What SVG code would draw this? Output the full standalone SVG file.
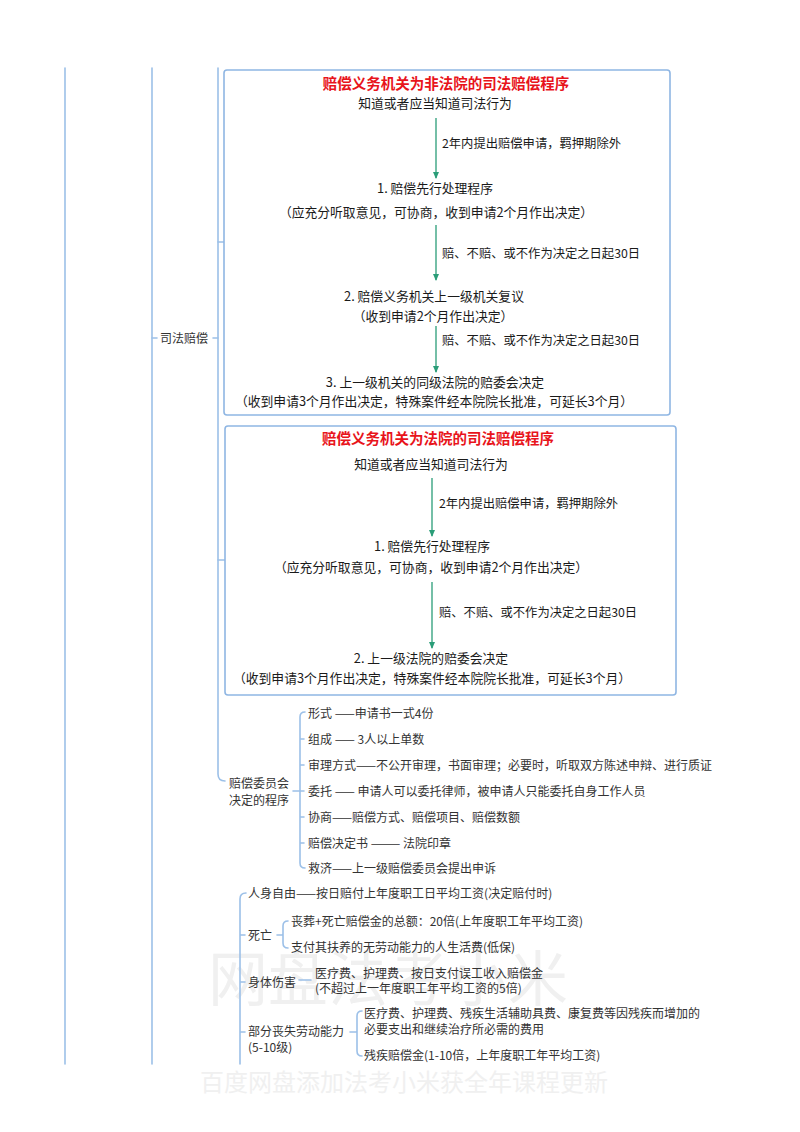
<svg xmlns="http://www.w3.org/2000/svg" width="800" height="1132" viewBox="0 0 800 1132">
<style>
.ln{fill:none;stroke:#9cc0e8;stroke-width:1.6;stroke-linecap:round}
.box{fill:#fff;stroke:#8fb6e3;stroke-width:1.6}
.arr{stroke:#2a9d78;stroke-width:1.3;fill:none}
.t{font-family:"Noto Sans CJK SC","Noto Sans",sans-serif;fill:#333;font-size:12px}
.b{font-family:"Noto Sans CJK SC","Noto Sans",sans-serif;fill:#1a1a1a;font-size:12.8px;text-anchor:middle}
.lb{font-family:"Noto Sans CJK SC","Noto Sans",sans-serif;fill:#1a1a1a;font-size:12.3px}
.h{font-family:"Noto Sans CJK SC","Noto Sans",sans-serif;fill:#e8141b;font-size:14.5px;font-weight:bold;text-anchor:middle}
.wm{font-family:"Noto Sans CJK SC","Noto Sans",sans-serif;fill:#f0f0f0}
</style>
<defs>
<marker id="ah" viewBox="0 0 8 8" refX="7" refY="4" markerWidth="7" markerHeight="7" orient="auto" markerUnits="userSpaceOnUse">
<path d="M0,0.5 L8,4 L0,7.5 Z" fill="#2a9d78"/>
</marker>
</defs>
<rect width="800" height="1132" fill="#fff"/>
<g id="watermark">
<text class="wm" x="208" y="1001" font-size="60">网盘法考小米</text>
<text class="wm" x="200" y="1091" font-size="24">百度网盘添加法考小米获全年课程更新</text>
</g>
<g id="connectors">
<path class="ln" d="M65,68 V1064"/>
<path class="ln" d="M152,68 V1064"/>
<path class="ln" d="M152,338 H157 M213,338 H218"/>
<path class="ln" d="M218,68 V774 Q218,781 225,781"/>
<path class="ln" d="M218,242 H224 M218,560 H225"/>
<path class="ln" d="M293,791 H300 M305,712 Q300,712 300,717 V863 Q300,868 305,868 M300,739 H304 M300,765 H304 M300,791 H304 M300,817 H304 M300,843 H304"/>
<path class="ln" d="M246,893 Q240,893 240,899 V1064 M240,935 H245 M240,982 H245 M240,1032 H245"/>
<path class="ln" d="M277,935 H282 M288,921 Q283,921 283,926 V943 Q283,948 288,948"/>
<path class="ln" d="M299,980 H311"/>
<path class="ln" d="M350,1032 H356 M362,1011 Q357,1011 357,1016 V1051 Q357,1056 362,1056"/>
</g>
<g id="node-sifa">
<text class="t" x="160" y="342.5" font-size="12.5">司法赔偿</text>
</g>
<g id="box-nonfayuan">
<rect class="box" x="224" y="70" width="446" height="345" rx="3"/>
<path class="arr" d="M436,118 V178" marker-end="url(#ah)"/>
<path class="arr" d="M436,225 V280" marker-end="url(#ah)"/>
<path class="arr" d="M436,326 V372" marker-end="url(#ah)"/>
<text class="h" x="446" y="88.5">赔偿义务机关为非法院的司法赔偿程序</text>
<text class="b" x="435" y="108">知道或者应当知道司法行为</text>
<text class="lb" x="442" y="147.5">2年内提出赔偿申请，羁押期除外</text>
<text class="b" x="435" y="192.5">1. 赔偿先行处理程序</text>
<text class="b" x="436" y="216.5">（应充分听取意见，可协商，收到申请2个月作出决定）</text>
<text class="lb" x="442" y="257.5">赔、不赔、或不作为决定之日起30日</text>
<text class="b" x="434" y="300.5">2. 赔偿义务机关上一级机关复议</text>
<text class="b" x="433" y="320.5">（收到申请2个月作出决定）</text>
<text class="lb" x="442" y="344.5">赔、不赔、或不作为决定之日起30日</text>
<text class="b" x="435" y="386.5">3. 上一级机关的同级法院的赔委会决定</text>
<text class="b" x="434" y="405.5">（收到申请3个月作出决定，特殊案件经本院院长批准，可延长3个月）</text>
</g>
<g id="box-fayuan">
<rect class="box" x="225" y="426" width="451" height="269" rx="3"/>
<path class="arr" d="M432,478 V536" marker-end="url(#ah)"/>
<path class="arr" d="M432,582 V648" marker-end="url(#ah)"/>
<text class="h" x="438" y="443.5">赔偿义务机关为法院的司法赔偿程序</text>
<text class="b" x="431" y="468.5">知道或者应当知道司法行为</text>
<text class="lb" x="439" y="507.5">2年内提出赔偿申请，羁押期除外</text>
<text class="b" x="432" y="550.5">1. 赔偿先行处理程序</text>
<text class="b" x="431" y="571.5">（应充分听取意见，可协商，收到申请2个月作出决定）</text>
<text class="lb" x="439" y="617">赔、不赔、或不作为决定之日起30日</text>
<text class="b" x="431" y="662.5">2. 上一级法院的赔委会决定</text>
<text class="b" x="432" y="682.5">（收到申请3个月作出决定，特殊案件经本院院长批准，可延长3个月）</text>
</g>
<g id="node-weiyuanhui">
<text class="t" x="229" y="787.5" font-size="12.5">赔偿委员会</text>
<text class="t" x="229" y="805" font-size="12.5">决定的程序</text>
</g>
<g id="weiyuanhui-items">
<text class="t" x="308" y="718">形式 ——申请书一式4份</text>
<text class="t" x="308" y="743.5">组成 —— 3人以上单数</text>
<text class="t" x="308" y="769.5">审理方式——不公开审理，书面审理；必要时，听取双方陈述申辩、进行质证</text>
<text class="t" x="308" y="795.5">委托 —— 申请人可以委托律师，被申请人只能委托自身工作人员</text>
<text class="t" x="308" y="821.5">协商——赔偿方式、赔偿项目、赔偿数额</text>
<text class="t" x="308" y="847.5">赔偿决定书 ——— 法院印章</text>
<text class="t" x="308" y="872.5">救济——上一级赔偿委员会提出申诉</text>
</g>
<g id="node-renshen">
<text class="t" x="248" y="897.5">人身自由——按日赔付上年度职工日平均工资(决定赔付时)</text>
</g>
<g id="node-siwang">
<text class="t" x="248" y="939.5">死亡</text>
<text class="t" x="291" y="925.5">丧葬+死亡赔偿金的总额：20倍(上年度职工年平均工资)</text>
<text class="t" x="291" y="951.5">支付其扶养的无劳动能力的人生活费(低保)</text>
</g>
<g id="node-shenti">
<text class="t" x="248" y="986.5">身体伤害</text>
<text class="t" x="315" y="978">医疗费、护理费、按日支付误工收入赔偿金</text>
<text class="t" x="315" y="993">(不超过上一年度职工年平均工资的5倍)</text>
</g>
<g id="node-bufen">
<text class="t" x="248" y="1036">部分丧失劳动能力</text>
<text class="t" x="248" y="1052">(5-10级)</text>
<text class="t" x="364" y="1018">医疗费、护理费、残疾生活辅助具费、康复费等因残疾而增加的</text>
<text class="t" x="364" y="1034">必要支出和继续治疗所必需的费用</text>
<text class="t" x="364" y="1060">残疾赔偿金(1-10倍，上年度职工年平均工资)</text>
</g>
</svg>
